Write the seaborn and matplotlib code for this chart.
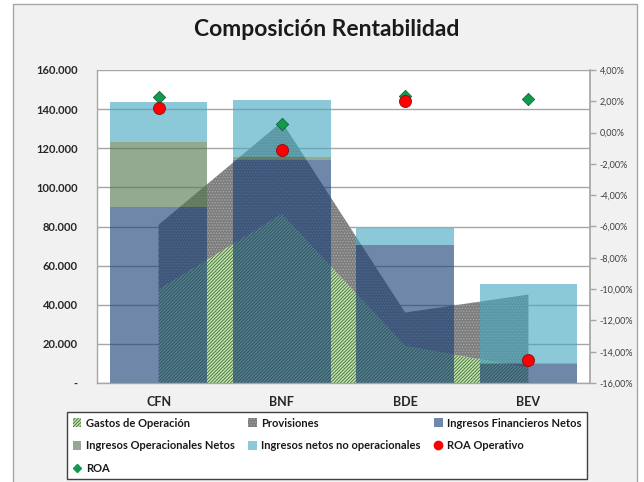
import numpy as np
import matplotlib
matplotlib.use("Agg")
from matplotlib import pyplot as plt
from matplotlib.patches import Patch, Rectangle
from matplotlib.lines import Line2D
from matplotlib.ticker import FuncFormatter, MultipleLocator
import seaborn as sns

# data
entidades = ["CFN", "BNF", "BDE", "BEV"]
gastos_operacion = [47800, 86400, 19000, 7700]
provisiones = [33100, 47100, 17000, 37500]
ing_financieros = [90000, 114000, 70600, 9600]
ing_operacionales = [33000, 1500, 0, 800]
ing_no_operacionales = [20600, 29000, 8600, 40000]
roa_operativo = [1.55, -1.11, 1.99, -14.53]
roa = [2.25, 0.58, 2.35, 2.14]

sns.set_theme(style="white")
plt.rcParams["font.family"] = ["Lato", "DejaVu Sans"]
plt.rcParams["hatch.linewidth"] = 0.6

fig = plt.figure(figsize=(6.44, 4.82), dpi=100)
W, H = 644, 482
# outer chart frame, on a background axes below everything
bg = fig.add_axes([0, 0, 1, 1], zorder=-5)
bg.set_axis_off()
bg.set_xlim(0, W)
bg.set_ylim(H, 0)
bg.add_patch(Rectangle((13, 4), 637 - 13, H, facecolor="#f1f1f1", edgecolor="#a6a6a6", lw=1))

ax = fig.add_axes([97 / W, 1 - 383 / H, (590 - 97) / W, (383 - 70) / H])
ax.set_facecolor("white")
x = np.arange(len(entidades))

# stacked areas (behind the bars)
g = np.array(gastos_operacion)
p = np.array(provisiones)
hatch_g = "/" * 10
hatch_p = "." * 6
ax.fill_between(x, 0, g, facecolor="#c3e4ad", edgecolor="#3d6a3a", hatch=hatch_g, lw=0, zorder=1)
ax.fill_between(x, g, g + p, facecolor="#7d7d7d", edgecolor="#a9a9a9", hatch=hatch_p, lw=0, zorder=1)

# stacked bars, translucent
a = 0.62
b1 = np.array(ing_financieros)
b2 = np.array(ing_operacionales)
b3 = np.array(ing_no_operacionales)
bw = 0.79
ax.bar(x, b1, width=bw, color="#173f77", alpha=a, lw=0, zorder=2)
ax.bar(x, b2, bottom=b1, width=bw, color="#52764c", alpha=a, lw=0, zorder=2)
ax.bar(x, b3, bottom=b1 + b2, width=bw, color="#45a9c0", alpha=a, lw=0, zorder=2)

ax.set_xlim(-0.5, 3.5)
ax.set_ylim(0, 160000)
ax.yaxis.set_major_locator(MultipleLocator(20000))
ax.yaxis.set_major_formatter(FuncFormatter(lambda v, pos: "-" if v == 0 else f"{v:,.0f}".replace(",", ".")))
ax.grid(axis="y", color="#a6a6a6", lw=1, zorder=0)
ax.set_axisbelow(True)
ax.set_xticks(x)
ax.set_xticklabels(entidades, fontweight="bold", fontsize=9)
ax.tick_params(axis="x", length=0, pad=9)
ax.tick_params(axis="y", length=0, pad=14, labelsize=8)
for lab in ax.get_yticklabels():
    lab.set_fontweight("bold")
for s in ["top", "right"]:
    ax.spines[s].set_visible(False)
for s in ["left", "bottom"]:
    ax.spines[s].set_color("#a6a6a6")
    ax.spines[s].set_linewidth(1)

# ROA on secondary axis
ax2 = ax.twinx()
sns.scatterplot(x=x, y=roa, ax=ax2, marker="D", s=40, color="#109a4e", edgecolor="#0a5a2e", lw=0.5, zorder=5)
sns.scatterplot(x=x, y=roa_operativo, ax=ax2, marker="o", s=75, color="#ff0000", edgecolor="#8a1010", lw=0.6, zorder=5)
ax2.set_ylim(-16, 4)
ax2.set_xlim(-0.5, 3.5)
ax2.yaxis.set_major_locator(MultipleLocator(2))
ax2.yaxis.set_major_formatter(FuncFormatter(lambda v, pos: f"{v:.2f}%".replace(".", ",")))
ax2.tick_params(axis="y", direction="out", length=4, width=1, color="#a6a6a6", labelsize=6.5,
                labelcolor="#404040", pad=3, right=True)
for s in ["top", "left", "bottom"]:
    ax2.spines[s].set_visible(False)
ax2.spines["right"].set_color("#a6a6a6")
ax2.grid(False)

fig.text(327 / W, 1 - 30 / H, "Composición Rentabilidad", ha="center", va="center",
         fontsize=16.5, fontweight="bold", color="#1a1a1a")

# legend, column-major order so rows read like the original
h_gastos = Patch(facecolor="#c3e4ad", edgecolor="#3d6a3a", hatch=hatch_g, lw=0, label="Gastos de Operación")
h_prov = Patch(facecolor="#7d7d7d", edgecolor="#a9a9a9", hatch=hatch_p, lw=0, label="Provisiones")
h_fin = Patch(facecolor="#6f88ab", lw=0, label="Ingresos Financieros Netos")
h_op = Patch(facecolor="#94aa90", lw=0, label="Ingresos Operacionales Netos")
h_noop = Patch(facecolor="#8ccad8", lw=0, label="Ingresos netos no operacionales")
h_roaop = Line2D([], [], ls="none", marker="o", ms=6, color="#ff0000", label="ROA Operativo")
h_roa = Line2D([], [], ls="none", marker="D", ms=4.5, color="#109a4e", label="ROA")
handles = [h_gastos, h_op, h_roa, h_prov, h_noop, h_fin, h_roaop]
leg = fig.legend(handles=handles, loc="upper left", ncol=3,
                 bbox_to_anchor=(67 / W, 1 - 412 / H, (587 - 67) / W, 0.0), mode="expand",
                 frameon=True, fancybox=False, edgecolor="#404040", framealpha=1, fontsize=8,
                 handlelength=0.8, handleheight=0.8, handletextpad=0.4, borderaxespad=0,
                 labelspacing=1.05, columnspacing=0.3, borderpad=0.5)
leg.get_frame().set_linewidth(1)
leg.get_frame().set_facecolor("white")
for t in leg.get_texts():
    t.set_fontweight("bold")
    t.set_color("#1a1a1a")

fig.savefig("out.png", dpi=100)
